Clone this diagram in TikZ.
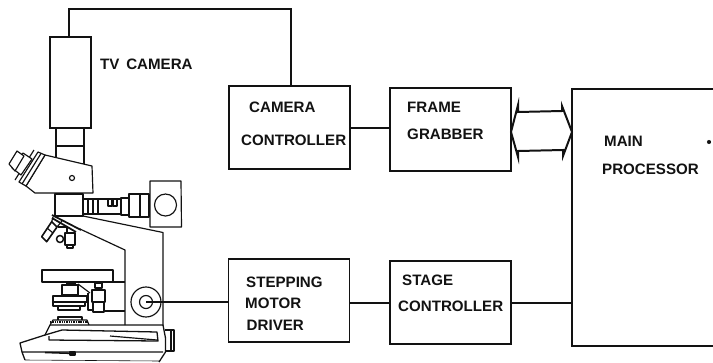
\documentclass[tikz,border=0pt]{standalone}
\usepackage{fontspec}
\setmainfont{Liberation Sans}
\usetikzlibrary{positioning,calc}
\definecolor{inkblack}{RGB}{18,18,18}
\tikzset{
  boxnode/.style={draw=inkblack, line width=1.2pt, minimum width=3.63cm, minimum height=2.49cm, inner sep=0pt, outer sep=0pt},
  boxlabel/.style={font=\fontsize{12.9}{14}\selectfont\bfseries, text=inkblack, anchor=west, inner sep=0pt},
  wire/.style={draw=inkblack, line width=1.3pt},
  scopeline/.style={draw=inkblack, line width=1pt, line join=round}
}
\begin{document}
\begin{tikzpicture}[x=0.03cm, y=-0.03cm]
  \useasboundingbox (0,0) rectangle (713,362);
  % Camera on the top port
  \node[boxnode, minimum width=1.23cm, minimum height=2.73cm] (tvcam) at (70.5,82.5) {};
  \node[boxlabel] (tvlabel) at (100,64.5) {TV\, CAMERA};
  % Control boxes
  \node[boxnode] (camctrl) at (289.5,127.5) {};
  \node[boxnode] (framegrab) at (450.5,129.5) {};
  \node[boxnode] (stepper) at (289,300.5) {};
  \node[boxnode] (stagectrl) at (450.5,302.5) {};
  \node[boxlabel] (camctrla) at (249,107.5) {CAMERA};
  \node[boxlabel] (camctrlb) at (241,140) {CONTROLLER};
  \node[boxlabel] (framea) at (407,107) {FRAME};
  \node[boxlabel] (frameb) at (407,134) {GRABBER};
  \node[boxlabel] (steppera) at (246,282.5) {STEPPING};
  \node[boxlabel] (stepperb) at (245,303.5) {MOTOR};
  \node[boxlabel] (stepperc) at (246.5,325) {DRIVER};
  \node[boxlabel] (stagea) at (402,280.5) {STAGE};
  \node[boxlabel] (stageb) at (398,306) {CONTROLLER};
  % Main processor runs off the page
  \coordinate (maintop) at (572,89);
  \coordinate (mainbot) at (572,346);
  \draw[wire, line width=1.4pt] (713,89) -- (maintop) -- (mainbot) -- (713,346);
  \node[boxlabel] (maina) at (604,141) {MAIN};
  \node[boxlabel] (mainb) at (602,169) {PROCESSOR};
  \node[circle, fill=inkblack, inner sep=0pt, minimum size=3.5pt] (speck) at (709,142) {};
  % Knob on the stage drive
  \node[circle, draw=inkblack, line width=1pt, minimum size=0.9cm, inner sep=0pt, outer sep=0pt] (knob) at (146,302) {};
  \node[circle, draw=inkblack, line width=1pt, minimum size=0.39cm, inner sep=0pt, outer sep=0pt] (knobin) at (146,302) {};
  % Connectors
  \coordinate (topleft) at (69,9);
  \coordinate (topright) at (291,9);
  \coordinate (uprun) at (0,128);
  \coordinate (lowrun) at (0,303);
  \draw[wire] (tvcam.north -| topleft) -- (topleft) -- (topright) -- (camctrl.north -| topright);
  \draw[wire] (camctrl.east |- uprun) -- (framegrab.west |- uprun);
  \draw[wire] (knobin.center) -- (stepper.west |- knobin.center);
  \draw[wire] (stepper.east |- lowrun) -- (stagectrl.west |- lowrun);
  \draw[wire] (stagectrl.east |- lowrun) -- (mainbot |- lowrun);
  % Double bus arrow
  \coordinate (bustipa) at (511,132);
  \coordinate (bustipb) at (572,132);
  \draw[wire, line width=1.7pt, line join=miter] (bustipa) -- (518,105) -- (518,112) -- (562,111) -- (562,106) -- (bustipb)
    -- (563,156) -- (563,150) -- (518,151) -- (518,157) -- cycle;
  % Tube under the camera
  \draw[scopeline] (56,128) -- (56,158) (84,128) -- (84,164) (56,146) -- (84,146);
  % Head and eyepiece
  \draw[scopeline, fill=white] (45,155) -- (92,166) -- (93,193) -- (35,193) -- (26,186) -- cycle;
  \draw[scopeline, fill=white] (38,152) -- (45,155) -- (26,186) -- (19,182) -- cycle;
  \draw[scopeline] (34,150) -- (15,180) (41,153.5) -- (22,184);
  \draw[scopeline, fill=white] (23,153) -- (32,159) -- (21,175) -- (12,168) -- cycle;
  \draw[scopeline, fill=white] (17,151) -- (24,156) -- (15,171) -- (9,164) -- cycle;
  \draw[scopeline] (72,178) circle (2.5);
  % Nosepiece block and side tube
  \draw[scopeline] (55,194) rectangle (83,216);
  \draw[scopeline] (83,199) rectangle (121,214);
  \draw[scopeline] (88,199) -- (88,214) (93,199) -- (93,214) (98,199) -- (98,214);
  \draw[scopeline] (108,199) rectangle (112,206) (113,199) rectangle (117,206);
  \draw[scopeline] (121,198) rectangle (129,215);
  \draw[scopeline] (129,194) rectangle (149,217) (140,194) -- (140,217);
  \draw[scopeline] (150,181) -- (181,181) -- (181.5,227) -- (150,227) -- cycle;
  \draw[scopeline] (165.5,205) circle (11);
  % Arm
  \draw[scopeline] (83,216) -- (163,232.5) -- (163,325);
  \draw[scopeline] (80,229) -- (125,250) -- (125,325);
  % Objectives
  \draw[scopeline, line width=1.5pt] (52,215) -- (81,230) (52,218) -- (76,232);
  \draw[scopeline, line width=1.4pt] (51.7,221.7) -- (57,227) -- (46.7,241.7) -- (41.7,236.7) -- cycle;
  \draw[scopeline] (47,228) -- (53,233);
  \draw[scopeline] (51.7,221.7) -- (53,217) (57,227) -- (62,221);
  \draw[scopeline, line width=1.3pt] (60,239) circle (3.5);
  \draw[scopeline] (58,227) -- (67,227) -- (67,233);
  \draw[scopeline, line width=1.3pt] (65,233) rectangle (75,245) (67,245) rectangle (73,248);
  % Stage and what hangs under it
  \draw[scopeline, line width=1.1pt] (42,270) rectangle (113,282);
  \draw[scopeline] (113,282) -- (125,282);
  \draw[scopeline] (62,285) rectangle (78,295) (67,283) rectangle (75,285);
  \draw[scopeline, line width=1.2pt] (53,296) -- (87,296) -- (87,302) -- (53,302) -- cycle;
  \draw[scopeline, line width=1.2pt] (53,302) -- (53,306) -- (85,306) -- (85,302);
  \draw[scopeline, line width=1.2pt] (58,306) rectangle (80,310);
  \draw[scopeline] (78,284) -- (90,293);
  \draw[scopeline] (88,293) -- (88,310) -- (92,310);
  \draw[scopeline] (95,283) rectangle (102,288);
  \draw[scopeline, line width=1.1pt] (92,290) rectangle (105,302) (93,302) rectangle (104,312);
  \draw[scopeline] (104,311) -- (125,311);
  % Base
  \draw[scopeline, line width=1.3pt, dash pattern=on 1.2pt off 0.8pt] (50,322) -- (88,322);
  \draw[scopeline] (50,325) -- (53,320) -- (87,320) -- (89,325);
  \draw[scopeline] (58,320) -- (58,317) -- (82,317) -- (82,320);
  \draw[scopeline, line width=1.1pt] (50,325) -- (163,325) -- (165.5,338) -- (165.5,352) -- (159,362);
  \draw[scopeline, line width=1.1pt] (50,325) -- (45,335) -- (20,343) -- (22,352) -- (25,360) (22,352) -- (163,352);
  \draw[scopeline, line width=1.1pt] (45,335) -- (62,330) -- (157,332) -- (158,341) -- (49,340) -- (49,336);
  \draw[scopeline] (110,336) -- (157,340);
  \draw[scopeline, line width=1.1pt] (165,330) -- (174,330) -- (174,351) -- (165,351);
  \draw[scopeline] (171,330) -- (171,351);
  \draw[scopeline, line width=1.3pt] (45,352.5) -- (75,353.5);
  \draw[scopeline] (70,352) rectangle (75,355);
  \draw[scopeline, line width=0.5pt] (25,360) -- (159,361);
\end{tikzpicture}
\end{document}
